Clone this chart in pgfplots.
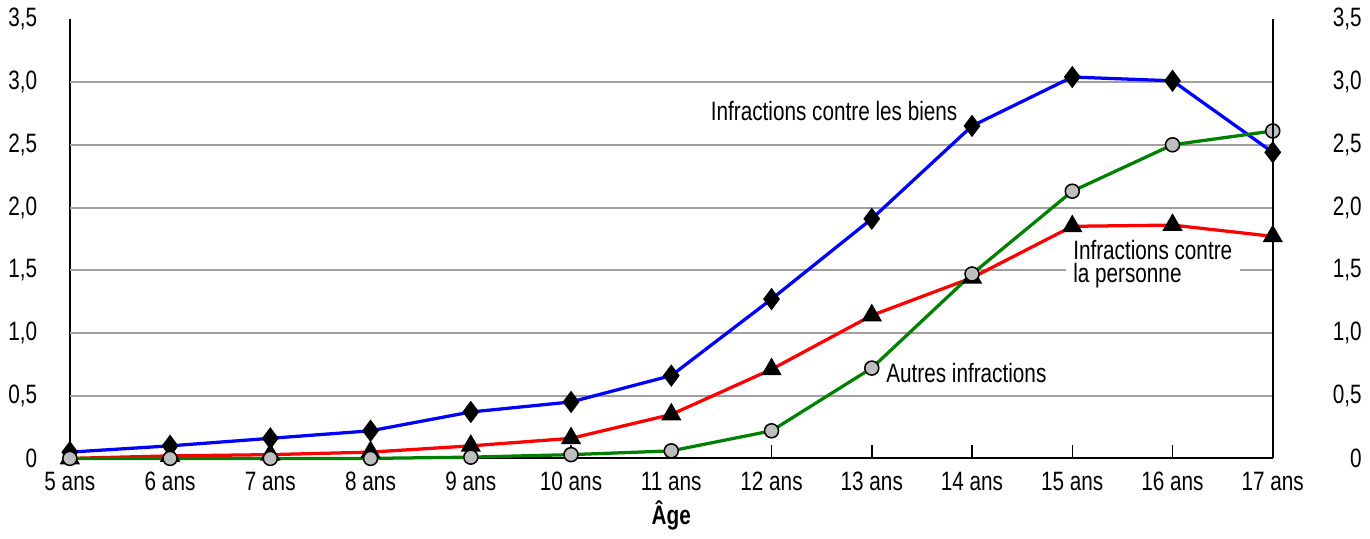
\documentclass[border=0pt]{standalone}
\usepackage{fontspec}
\setmainfont[FakeStretch=0.78]{Liberation Sans}
\usepackage{pgfplots}
\pgfplotsset{compat=1.18}
\definecolor{gridgray}{RGB}{160,160,160}
\definecolor{ptgray}{RGB}{190,190,190}
\definecolor{ogreen}{RGB}{0,128,0}

\pgfplotsset{
  base/.style={
    scale only axis, width=480pt, height=175.2pt,
    xmin=5, xmax=17, ymin=0, ymax=3.5,
    ytick={0,0.5,...,3.5},
    yticklabels={0,{0,5},{1,0},{1,5},{2,0},{2,5},{3,0},{3,5}},
    tick label style={font=\fontsize{10.6}{12}\selectfont},
    axis line style={black, line width=0.8pt},
    /pgf/number format/assume math mode=true,
  },
}

\begin{document}
\begin{tikzpicture}
% x tick marks, pointing up from the bottom line (drawn first, under the marks)
\begin{axis}[
  scale only axis, width=480pt, height=175.2pt,
  xmin=5, xmax=17, ymin=0, ymax=3.5,
  axis x line*=bottom, axis y line=none,
  axis line style={black, line width=0.8pt},
  xtick={5,...,17}, xticklabels={}, ytick=\empty,
  xtick align=inside, major tick length=5.5pt,
  x tick style={black, line width=0.6pt},
]
\end{axis}
\begin{axis}[
  base,
  axis x line*=bottom, axis y line*=left,
  xtick={5,...,17},
  xticklabels={5 ans,6 ans,7 ans,8 ans,9 ans,10 ans,11 ans,12 ans,13 ans,14 ans,15 ans,16 ans,17 ans},
  tick style={draw=none},
  yticklabel style={xshift=-9.5pt},
  xticklabel style={yshift=-2pt},
  extra y ticks={0.5,1,...,3},
  extra y tick labels={},
  extra y tick style={grid=major, major grid style={gridgray, line width=0.8pt}},
  xlabel={\textbf{Âge}},
  xlabel style={font=\fontsize{10.6}{12}\selectfont, yshift=3pt},
  clip=false,
]
\addplot[blue, line width=1.3pt, mark=diamond*, mark size=3.4pt, mark options={solid, fill=black, draw=black}]
  coordinates {(5,0.05)(6,0.10)(7,0.16)(8,0.22)(9,0.37)(10,0.45)(11,0.66)(12,1.27)(13,1.91)(14,2.65)(15,3.04)(16,3.01)(17,2.44)};
\addplot[red, line width=1.3pt, mark=triangle*, mark size=3.4pt, mark options={solid, fill=black, draw=black}]
  coordinates {(5,0.0)(6,0.02)(7,0.03)(8,0.05)(9,0.10)(10,0.16)(11,0.35)(12,0.71)(13,1.14)(14,1.44)(15,1.85)(16,1.86)(17,1.77)};
\addplot[ogreen, line width=1.3pt, mark=*, mark size=2.8pt, mark options={solid, fill=ptgray, draw=black, line width=0.6pt}]
  coordinates {(5,0.0)(6,0.0)(7,0.0)(8,0.0)(9,0.01)(10,0.03)(11,0.06)(12,0.22)(13,0.72)(14,1.47)(15,2.13)(16,2.50)(17,2.61)};
\node[anchor=west, font=\fontsize{10.6}{12}\selectfont, inner sep=0pt] at (axis cs:11.39,2.77) {Infractions contre les biens};
\node[anchor=west, align=left, fill=white, inner xsep=3pt, inner ysep=1pt, font=\fontsize{10.6}{9.4}\selectfont] at (axis cs:14.93,1.55) {Infractions contre\\la personne};
\node[anchor=west, font=\fontsize{10.6}{12}\selectfont, inner sep=0pt] at (axis cs:13.14,0.68) {Autres infractions};
\path (rel axis cs:1,0) ++(39.6pt,0);
\end{axis}
\begin{axis}[
  base,
  axis y line*=right, axis x line=none,
  tick style={draw=none},
  yticklabel style={anchor=east, xshift=39pt},
]
\end{axis}
\end{tikzpicture}
\end{document}
